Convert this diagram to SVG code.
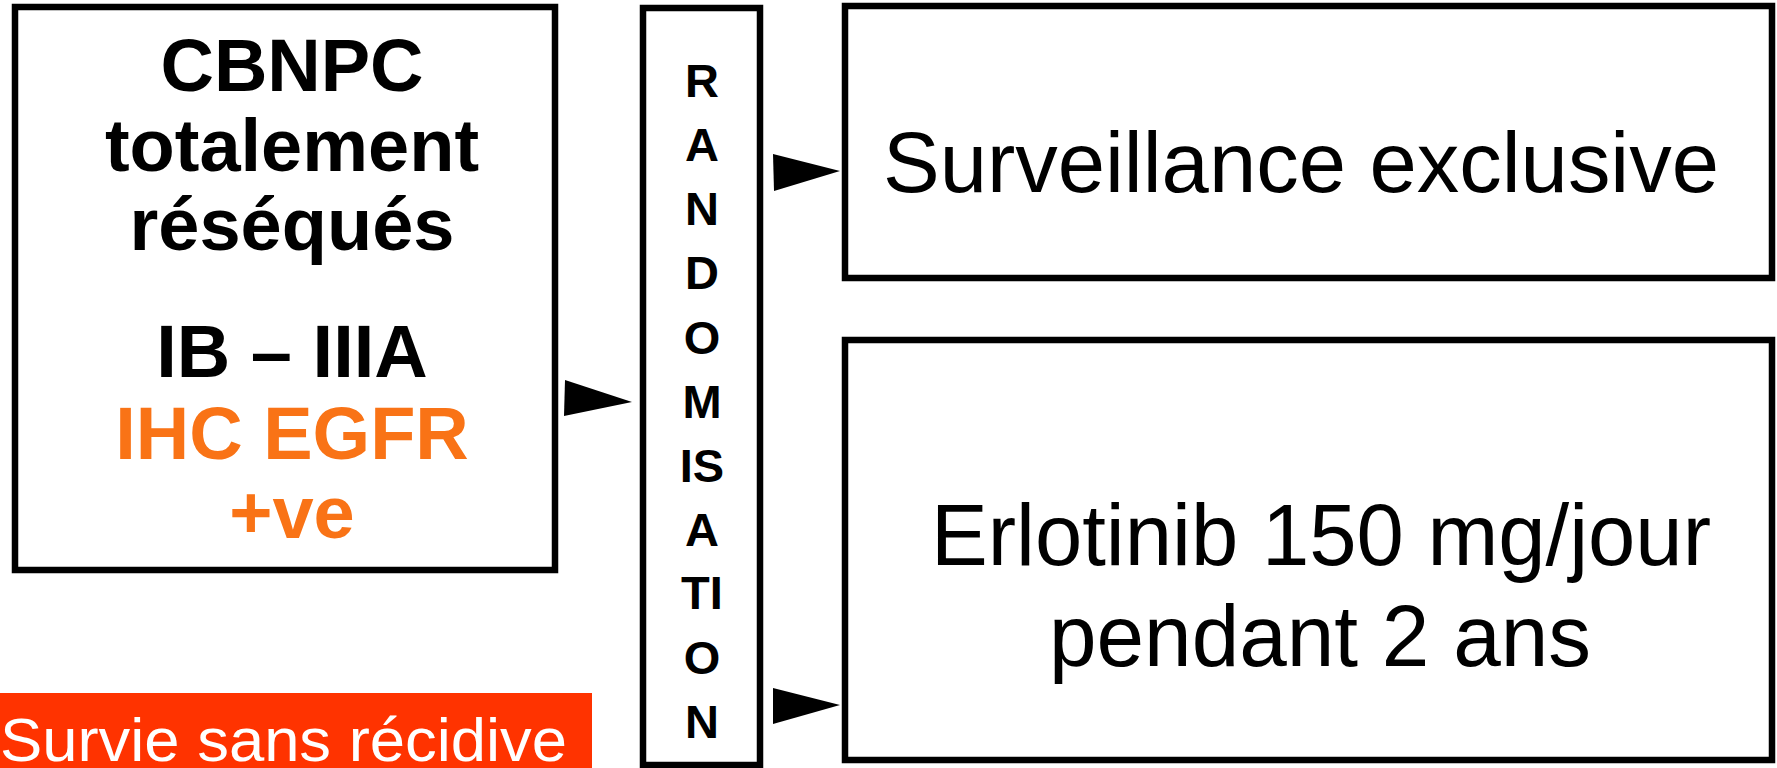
<svg xmlns="http://www.w3.org/2000/svg" width="1777" height="768" viewBox="0 0 1777 768">
<style>
.box{fill:#fff;stroke:#000;stroke-width:6.5}
.b{font-family:"Liberation Sans",Arial,sans-serif;font-weight:bold;text-anchor:middle}
.r{font-family:"Liberation Sans",Arial,sans-serif;text-anchor:middle}
.lt{font-size:74px}
.org{fill:#F97316}
.rl{font-size:47px}
.big{font-size:86px}
</style>
<rect width="1777" height="768" fill="#fff"/>
<g id="node-left">
<rect class="box" x="15" y="7" width="540" height="563"/>
<text class="b lt" x="292" y="91">CBNPC</text>
<text class="b lt" x="292" y="171">totalement</text>
<text class="b lt" x="292" y="250">réséqués</text>
<text class="b lt" x="292" y="377">IB – IIIA</text>
<text class="b lt org" x="292" y="459">IHC EGFR</text>
<text class="b lt org" x="292" y="538">+ve</text>
</g>
<g id="node-random">
<rect class="box" x="643" y="8" width="117" height="757"/>
<g class="b rl">
<text x="702" y="97">R</text>
<text x="702" y="161">A</text>
<text x="702" y="225">N</text>
<text x="702" y="289">D</text>
<text x="702" y="354">O</text>
<text x="702" y="418">M</text>
<text x="702" y="482">IS</text>
<text x="702" y="546">A</text>
<text x="702" y="609">TI</text>
<text x="702" y="674">O</text>
<text x="702" y="738">N</text>
</g>
</g>
<g id="node-surv">
<rect class="box" x="845" y="6" width="927" height="272"/>
<text class="r big" x="1301" y="192" textLength="836" lengthAdjust="spacingAndGlyphs">Surveillance exclusive</text>
</g>
<g id="node-erlo">
<rect class="box" x="845" y="340" width="927" height="420"/>
<text class="r" style="font-size:87px" x="1321" y="565" textLength="780" lengthAdjust="spacingAndGlyphs">Erlotinib 150 mg/jour</text>
<text class="r" style="font-size:87px" x="1320" y="666" textLength="542" lengthAdjust="spacingAndGlyphs">pendant 2 ans</text>
</g>
<g id="connectors" fill="#000">
<polygon points="565,380 632,402 564,416"/>
<polygon points="773,154 840,171 774,191"/>
<polygon points="773,688 840,705 773,724"/>
</g>
<g id="banner">
<rect x="0" y="693" width="592" height="75" fill="#FF3300"/>
<text x="0" y="761" fill="#fff" style="font-family:'Liberation Sans',Arial,sans-serif;font-size:62px" textLength="567" lengthAdjust="spacingAndGlyphs">Survie sans récidive</text>
</g>
</svg>
